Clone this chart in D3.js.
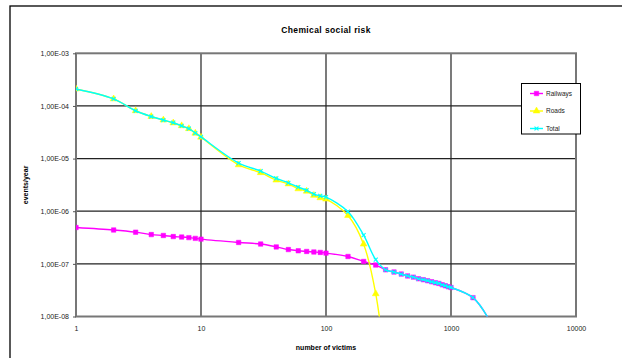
<!DOCTYPE html>
<html>
<head>
<meta charset="utf-8">
<script src="https://cdn.jsdelivr.net/npm/d3@7"></script>
<style>
  body { margin: 0; background: #fff; }
  svg { display: block; font-family: "Liberation Sans", Arial, sans-serif; }
  .axis text { font-size: 7px; fill: #222; }
  .axis path { display: none; }
  .axis line { stroke: #555; }
</style>
</head>
<body>
<svg id="chart" width="622" height="358"></svg>
<script>
const victims = [1, 2, 3, 4, 5, 6, 7, 8, 9, 10, 20, 30, 40, 50, 60, 70, 80, 90, 100,
  150, 200, 250, 300, 350, 400, 450, 500, 550, 600, 650, 700, 750, 800, 850, 900, 950,
  1000, 1500, 2000];

const railways = [4.9e-7, 4.4e-7, 4.0e-7, 3.6e-7, 3.46e-7, 3.3e-7, 3.23e-7, 3.15e-7, 3.05e-7, 2.95e-7,
  2.55e-7, 2.38e-7, 2.1e-7, 1.87e-7, 1.77e-7, 1.72e-7, 1.68e-7, 1.65e-7, 1.6e-7,
  1.38e-7, 1.11e-7, 9.5e-8, 7.7e-8, 7.0e-8, 6.4e-8, 5.9e-8, 5.6e-8, 5.2e-8, 5.0e-8, 4.78e-8,
  4.57e-8, 4.38e-8, 4.25e-8, 4.0e-8, 3.84e-8, 3.67e-8, 3.56e-8, 2.28e-8, 9e-9];

const roadsVictims = [1, 2, 3, 4, 5, 6, 7, 8, 9, 10, 20, 30, 40, 50, 60, 70, 80, 90, 100,
  150, 200, 250, 300];
const roads = [2.1e-4, 1.36e-4, 8.1e-5, 6.3e-5, 5.4e-5, 4.75e-5, 4.2e-5, 3.7e-5, 3.03e-5, 2.55e-5,
  7.6e-6, 5.4e-6, 3.9e-6, 3.3e-6, 2.66e-6, 2.4e-6, 2.0e-6, 1.8e-6, 1.7e-6,
  8.3e-7, 2.37e-7, 2.7e-8, 1e-9];

const total = [2.1e-4, 1.36e-4, 8.1e-5, 6.3e-5, 5.4e-5, 4.8e-5, 4.2e-5, 3.7e-5, 3.06e-5, 2.58e-5,
  8.2e-6, 5.8e-6, 4.2e-6, 3.46e-6, 2.87e-6, 2.5e-6, 2.11e-6, 1.95e-6, 1.85e-6,
  9.8e-7, 3.5e-7, 1.2e-7, 7.7e-8, 7.0e-8, 6.4e-8, 5.9e-8, 5.6e-8, 5.2e-8, 5.0e-8, 4.78e-8,
  4.57e-8, 4.38e-8, 4.25e-8, 4.0e-8, 3.84e-8, 3.67e-8, 3.56e-8, 2.28e-8, 9e-9];

const xTicks = [1, 10, 100, 1000, 10000];
const yTicks = [1e-8, 1e-7, 1e-6, 1e-5, 1e-4, 1e-3];

const PLOT = { left: 76, right: 576, top: 53.3, bottom: 316.5 };

const svg = d3.select('#chart');

// outer chart frame (runs off the right / bottom of the picture)
svg.append('rect')
  .attr('x', 10).attr('y', 6).attr('width', 700).attr('height', 500)
  .attr('fill', 'none').attr('stroke', '#000').attr('stroke-width', 1.3);

const x = d3.scaleLog().domain([1, 10000]).range([PLOT.left, PLOT.right]);
const y = d3.scaleLog().domain([1e-8, 1e-3]).range([PLOT.bottom, PLOT.top]);

svg.append('defs').append('clipPath').attr('id', 'plot-clip')
  .append('rect')
  .attr('x', PLOT.left).attr('y', PLOT.top - 3)
  .attr('width', PLOT.right - PLOT.left).attr('height', PLOT.bottom - PLOT.top + 3);

// grid
const gGrid = svg.append('g');
gGrid.selectAll('line.gx').data(xTicks.slice(1, -1)).join('line')
  .attr('x1', d => x(d)).attr('x2', d => x(d))
  .attr('y1', PLOT.top).attr('y2', PLOT.bottom)
  .attr('stroke', '#222').attr('stroke-width', 1.2);
gGrid.selectAll('line.gy').data(yTicks.slice(1, -1)).join('line')
  .attr('y1', d => y(d)).attr('y2', d => y(d))
  .attr('x1', PLOT.left).attr('x2', PLOT.right)
  .attr('stroke', '#222').attr('stroke-width', 1.2);

svg.append('rect')
  .attr('x', PLOT.left).attr('y', PLOT.top)
  .attr('width', PLOT.right - PLOT.left).attr('height', PLOT.bottom - PLOT.top)
  .attr('fill', 'none').attr('stroke', '#777').attr('stroke-width', 2);

// axes
const fmtY = d => d.toExponential(2).replace('.', ',').replace('e-', 'E-0');

svg.append('g').attr('class', 'axis')
  .attr('transform', `translate(${PLOT.left},0)`)
  .call(d3.axisLeft(y).tickValues(yTicks).tickFormat(fmtY).tickSize(3).tickPadding(4));

svg.append('g').attr('class', 'axis')
  .attr('transform', `translate(0,${PLOT.bottom})`)
  .call(d3.axisBottom(x).tickValues(xTicks).tickFormat(d3.format('d')).tickSize(0).tickPadding(10));

// series
const series = [
  { name: 'Railways', xs: victims, ys: railways, color: '#ff00ff', symbol: d3.symbolSquare, size: 20, fill: true },
  { name: 'Roads', xs: roadsVictims, ys: roads, color: '#ffff00', symbol: d3.symbolTriangle, size: 20, fill: true },
  { name: 'Total', xs: victims, ys: total, color: '#00ffff', symbol: d3.symbolTimes, size: 12, fill: false }
];

const line = d3.line()
  .x(d => x(d[0]))
  .y(d => y(d[1]))
  .curve(d3.curveCatmullRom.alpha(0.5));

const gData = svg.append('g').attr('clip-path', 'url(#plot-clip)');

series.forEach(s => {
  const pts = s.xs.map((v, i) => [v, s.ys[i]]);
  const g = gData.append('g');
  g.append('path')
    .attr('d', line(pts))
    .attr('fill', 'none')
    .attr('stroke', s.color)
    .attr('stroke-width', 1.4);
  g.selectAll('path.m').data(pts.filter(p => p[1] >= 1e-8)).join('path')
    .attr('class', 'm')
    .attr('transform', p => `translate(${x(p[0])},${y(p[1])})`)
    .attr('d', d3.symbol(s.symbol, s.size))
    .attr('fill', s.fill ? s.color : 'none')
    .attr('stroke', s.color)
    .attr('stroke-width', s.fill ? 0.5 : 1.1);
});

// title and axis labels
svg.append('text')
  .attr('x', (PLOT.left + PLOT.right) / 2).attr('y', 33)
  .attr('text-anchor', 'middle')
  .style('font-size', '8.5px').style('font-weight', 'bold').style('letter-spacing', '0.4px')
  .text('Chemical social risk');

svg.append('text')
  .attr('x', (PLOT.left + PLOT.right) / 2).attr('y', 350)
  .attr('text-anchor', 'middle')
  .style('font-size', '7px').style('font-weight', 'bold')
  .text('number of victims');

svg.append('text')
  .attr('transform', `translate(28,${(PLOT.top + PLOT.bottom) / 2}) rotate(-90)`)
  .attr('text-anchor', 'middle')
  .style('font-size', '7px').style('font-weight', 'bold')
  .text('events/year');

// legend
const legend = svg.append('g').attr('transform', 'translate(521.5,83.5)');
legend.append('rect')
  .attr('width', 59).attr('height', 50.5)
  .attr('fill', '#fff').attr('stroke', '#000').attr('stroke-width', 1);

const legendY = [10, 27.5, 45];
series.forEach((s, i) => {
  const g = legend.append('g').attr('transform', `translate(0,${legendY[i]})`);
  g.append('line').attr('x1', 8.5).attr('x2', 21.5)
    .attr('stroke', s.color).attr('stroke-width', 1.4);
  g.append('path')
    .attr('transform', 'translate(15,0)')
    .attr('d', d3.symbol(s.symbol, s.size))
    .attr('fill', s.fill ? s.color : 'none')
    .attr('stroke', s.color)
    .attr('stroke-width', s.fill ? 0.5 : 1.1);
  g.append('text').attr('x', 24.5).attr('dy', '0.35em')
    .style('font-size', '6.5px').style('fill', '#222')
    .text(s.name);
});
</script>
</body>
</html>
